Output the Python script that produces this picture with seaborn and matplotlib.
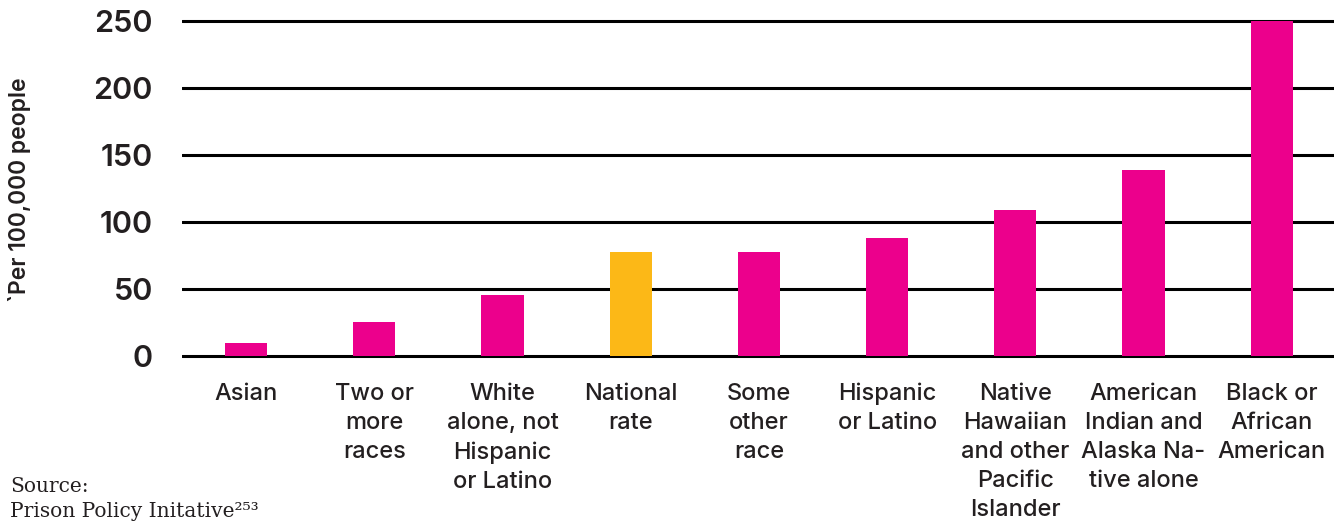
import matplotlib
matplotlib.use("Agg")
import matplotlib.pyplot as plt
import seaborn as sns

# Rate per 100,000 people
groups = [
    "Asian",
    "Two or\nmore\nraces",
    "White\nalone, not\nHispanic\nor Latino",
    "National\nrate",
    "Some\nother\nrace",
    "Hispanic\nor Latino",
    "Native\nHawaiian\nand other\nPacific\nIslander",
    "American\nIndian and\nAlaska Na-\ntive alone",
    "Black or\nAfrican\nAmerican",
]
rates = [10, 26, 46, 78, 78, 88, 109, 139, 250]
y_ticks = [0, 50, 100, 150, 200, 250]

PINK = "#EC008C"
YELLOW = "#FCB817"
INK = "#231F20"

bar_colors = {g: (YELLOW if g.startswith("National") else PINK) for g in groups}

sns.set_theme(style="white")
plt.rcParams["font.family"] = ["Inter", "DejaVu Sans"]

fig = plt.figure(figsize=(13.34, 5.22), dpi=100)
ax = fig.add_axes([0.1364, 0.3042, 0.865, 0.6684])

sns.barplot(x=groups, y=rates, hue=groups, palette=bar_colors,
            legend=False, width=0.33, saturation=1, linewidth=0,
            edgecolor="none", ax=ax)

ax.set_xlim(-0.5, 8.5)
ax.set_ylim(-5, 255)
ax.set_yticks(y_ticks)
ax.yaxis.grid(True, color="black", linewidth=2.2)
ax.xaxis.grid(False)
ax.set_axisbelow(True)
sns.despine(ax=ax, left=True, bottom=True)

ax.tick_params(axis="both", length=0)
ax.tick_params(axis="y", pad=21, labelsize=22, labelcolor=INK)
ax.tick_params(axis="x", pad=14, labelsize=17, labelcolor=INK)
for lab in ax.get_yticklabels():
    lab.set_fontweight("semibold")
for lab in ax.get_xticklabels():
    lab.set_fontweight("medium")
    lab.set_linespacing(1.42)
    lab.set_verticalalignment("top")
ax.set_xlabel("")
ax.set_ylabel("")

fig.text(20 / 1334, 0.636, "`Per 100,000 people", rotation=90,
         ha="center", va="center", fontsize=16.5, fontweight="semibold",
         color=INK)

# source note sits in the bottom-left corner, as in the original
fig.text(10 / 1334, 1 - 477 / 522, "Source:\nPrison Policy Initative²⁵³",
         ha="left", va="top", fontsize=14.5, linespacing=1.4,
         family=["DejaVu Serif"], color=INK)

fig.savefig("out.png", dpi=100, facecolor="white")
